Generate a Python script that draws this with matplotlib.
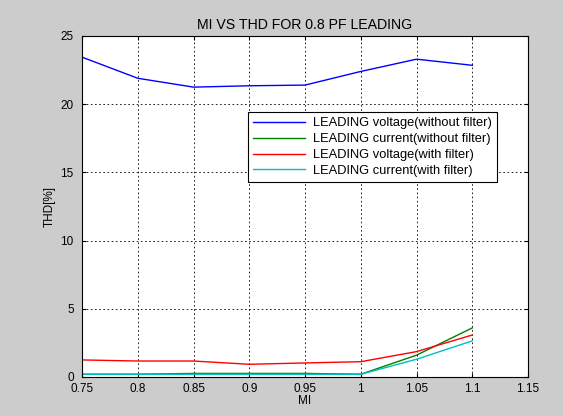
import matplotlib
matplotlib.use('Agg')
import matplotlib.pyplot as plt

plt.rcParams['font.family'] = ['Liberation Sans', 'DejaVu Sans']
plt.rcParams['font.size'] = 8.5

mi = [0.75, 0.8, 0.85, 0.9, 0.95, 1.0, 1.05, 1.1]
v_nofilt = [23.45, 21.9, 21.25, 21.35, 21.4, 22.4, 23.3, 22.85]
i_nofilt = [0.2, 0.2, 0.26, 0.26, 0.26, 0.2, 1.6, 3.6]
v_filt = [1.25, 1.17, 1.17, 0.93, 1.03, 1.12, 1.86, 3.08]
i_filt = [0.2, 0.2, 0.2, 0.2, 0.2, 0.2, 1.3, 2.65]

labels = ['LEADING voltage(without filter)', 'LEADING current(without filter)',
          'LEADING voltage(with filter)', 'LEADING current(with filter)']
colors = ['#0000ff', '#008000', '#ff0000', '#00bfbf']

fig = plt.figure(figsize=(5.63, 4.16), dpi=100, facecolor='#cccccc')
ax = fig.add_axes([0.1456, 0.0938, 0.7924, 0.8197])

for ys, lab, c in zip([v_nofilt, i_nofilt, v_filt, i_filt], labels, colors):
    ax.plot(mi, ys, color=c, lw=1.0, label=lab)

ax.set_xlim(0.75, 1.15)
ax.set_ylim(0, 25)
ax.set_xticks([0.75, 0.8, 0.85, 0.9, 0.95, 1.0, 1.05, 1.1, 1.15])
ax.set_xticklabels(['0.75', '0.8', '0.85', '0.9', '0.95', '1', '1.05', '1.1', '1.15'])
ax.set_yticks([0, 5, 10, 15, 20, 25])
ax.tick_params(direction='in', top=True, right=True, length=3)
ax.tick_params(axis='x', pad=4)
ax.tick_params(axis='y', pad=6)
ax.grid(True, color='black', linestyle=(0, (2, 3)), linewidth=0.6)

ax.set_title('MI VS THD FOR 0.8 PF LEADING', pad=5)
ax.set_xlabel('MI', labelpad=0)
ax.set_ylabel('THD[%]', labelpad=3)

leg = ax.legend(loc='upper right', bbox_to_anchor=(0.93, 0.777), fancybox=False,
                edgecolor='black', framealpha=1, borderaxespad=0, handlelength=4.0,
                labelspacing=0.3, borderpad=0.4, fontsize=9.3, handletextpad=0.6)
leg.get_frame().set_linewidth(0.8)

fig.savefig('out.png', dpi=100, facecolor=fig.get_facecolor())
